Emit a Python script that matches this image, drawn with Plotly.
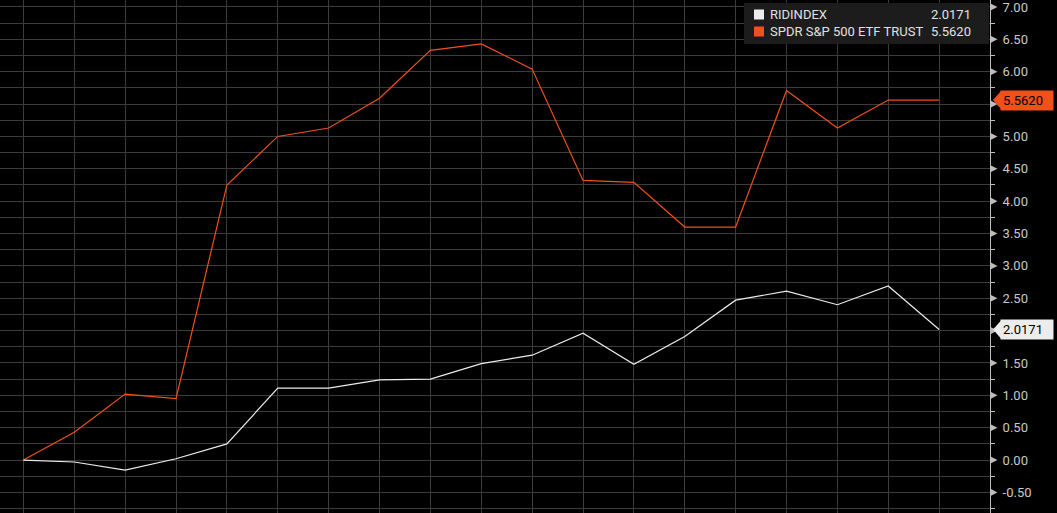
import plotly.graph_objects as go

# ---- data ----
periods = list(range(19))
spy_values = [0.00, 0.43, 1.02, 0.95, 4.25, 5.00, 5.13, 5.59, 6.33, 6.43, 6.04,
              4.32, 4.29, 3.60, 3.60, 5.71, 5.13, 5.562, 5.562]
rid_values = [0.00, -0.03, -0.155, 0.02, 0.25, 1.11, 1.11, 1.24, 1.25, 1.49, 1.62,
              1.96, 1.48, 1.91, 2.47, 2.61, 2.40, 2.69, 2.0171]
series_names = ["RIDINDEX", "SPDR S&P 500 ETF TRUST"]
last_labels = ["2.0171", "5.5620"]
tick_vals = [-0.5 + 0.5 * i for i in range(16)]

last_vals = [rid_values[-1], spy_values[-1]]
# tick labels hidden behind the last-value tags are left blank
tick_text = ["" if any(abs(v - lv) < 0.2 for lv in last_vals) else f"{v:.2f}"
             for v in tick_vals]

WHITE = "#ececec"
ORANGE = "#f0501a"
GRID = "#3c3c3c"
AXIS = "#bdbdbd"
TXT = "#c8c8c8"
FONT = "Roboto, Arial, sans-serif"

X_RANGE = [-0.46, 19.0]
Y_RANGE = [-0.818, 7.108]

fig = go.Figure()
fig.add_trace(go.Scatter(x=periods, y=spy_values, mode="lines",
                         line=dict(color=ORANGE, width=1.2), name=series_names[1]))
fig.add_trace(go.Scatter(x=periods, y=rid_values, mode="lines",
                         line=dict(color=WHITE, width=1.2), name=series_names[0]))

fig.update_layout(
    width=1057, height=513,
    margin=dict(l=0, r=67, t=0, b=0, pad=0),
    paper_bgcolor="black", plot_bgcolor="black",
    showlegend=False,
    font=dict(family=FONT, color=TXT, size=13),
)
fig.update_xaxes(range=X_RANGE, tickmode="array", tickvals=periods, showticklabels=False,
                 showgrid=True, gridcolor=GRID, gridwidth=1, zeroline=False,
                 showline=False, ticks="", automargin=False)
fig.update_yaxes(range=Y_RANGE, side="right", tickmode="array", tickvals=tick_vals,
                 ticktext=tick_text, showgrid=True, gridcolor=GRID, gridwidth=1,
                 zeroline=False, showline=True, linecolor=AXIS, linewidth=1,
                 ticks="", ticklabelstandoff=9, automargin=False,
                 ticklabeloverflow="allow",
                 tickfont=dict(family=FONT, size=13, color=TXT),
                 minor=dict(dtick=0.25, tick0=0, showgrid=True, gridcolor=GRID, gridwidth=1,
                            ticks="outside", ticklen=4, tickcolor=AXIS))

# triangle tick markers
shapes = []
for v in tick_vals:
    shapes.append(dict(type="path", xref="paper", yref="y",
                       path=f"M 1.0005 {v+0.055} L 1.0075 {v} L 1.0005 {v-0.055} Z",
                       fillcolor=AXIS, line=dict(width=0), layer="above"))

# legend box
shapes.append(dict(type="rect", xref="paper", yref="paper",
                   x0=744/990, x1=0.999, y0=1 - 44/513, y1=1 - 3/513,
                   fillcolor="#1c1c1c", line=dict(width=0), layer="above"))
colors = [WHITE, ORANGE]
rows_y = [14.5, 31.5]
annotations = []
for name, lab, col, ry in zip(series_names, last_labels, colors, rows_y):
    shapes.append(dict(type="rect", xref="paper", yref="paper",
                       x0=754/990, x1=764/990, y0=1 - (ry + 5)/513, y1=1 - (ry - 5)/513,
                       fillcolor=col, line=dict(width=0), layer="above"))
    annotations.append(dict(xref="paper", yref="paper", x=768/990, y=1 - ry/513,
                            text=name, showarrow=False, xanchor="left", yanchor="middle",
                            font=dict(family=FONT, size=13, color="#e0e0e0")))
    annotations.append(dict(xref="paper", yref="paper", x=973/990, y=1 - ry/513,
                            text=lab, showarrow=False, xanchor="right", yanchor="middle",
                            font=dict(family=FONT, size=13, color="#e0e0e0")))

# last value tags
tag_text_col = ["black", "black"]
for val, lab, col, tcol in zip(last_vals, last_labels, colors, tag_text_col):
    annotations.append(dict(xref="paper", yref="y", x=1000/990, y=val, text=lab,
                            showarrow=False, xanchor="left", yanchor="middle",
                            bgcolor=col, borderpad=2, width=48, align="left",
                            font=dict(family=FONT, size=13, color=tcol)))
    shapes.append(dict(type="path", xref="paper", yref="y",
                       path=f"M {993/990} {val} L {1001/990} {val+0.14} L {1001/990} {val-0.14} Z",
                       fillcolor=col, line=dict(width=0), layer="above"))

fig.update_layout(shapes=shapes, annotations=annotations)
fig.write_html("out.html", config={"displayModeBar": False},
               post_script="document.body.style.margin='0px';document.body.style.background='black';")
